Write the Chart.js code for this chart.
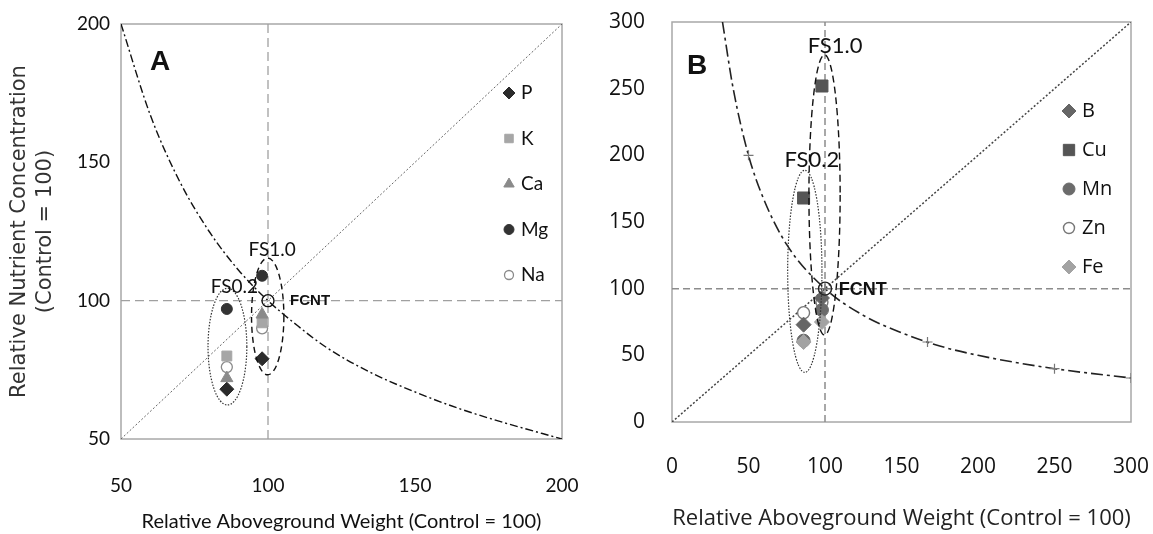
<!DOCTYPE html>
<html lang="en">
<head>
    <meta charset="UTF-8">
    <title>Relative nutrient concentration vs aboveground weight</title>
    <script src="https://cdn.jsdelivr.net/npm/chart.js"></script>
    <style>
        body {
            margin: 0;
            background: #fff;
        }
        #chartA {
            position: absolute;
            left: 0;
            top: 0;
        }
        #chartB {
            position: absolute;
            left: 590px;
            top: 0;
        }
    </style>
</head>
<body>
    <canvas id="chartA" width="585" height="534"></canvas>
    <canvas id="chartB" width="563" height="534"></canvas>

    <script>
        // Panel A - macronutrients (x = relative weight, y = relative concentration)
        var A_TREATMENTS = ["FS0.2", "FS1.0"];
        var A_WEIGHT = [86, 98];
        var A_P = [68, 79];
        var A_K = [80, 92];
        var A_CA = [72, 95];
        var A_MG = [97, 109];
        var A_NA = [76, 90];
        var A_TICKS = [50, 100, 150, 200];
        // iso-content curve through the control point
        var A_CURVE_X = [50, 60, 70, 80, 90, 100, 110, 120, 135, 150, 165, 180, 200];
        var A_CURVE_Y = [200, 167, 143, 125, 111, 100, 91, 83, 74, 67, 61, 56, 50];

        // Panel B - micronutrients
        var B_TREATMENTS = ["FS0.2", "FS1.0"];
        var B_WEIGHT = [86, 98];
        var B_B = [73, 93];
        var B_CU = [168, 252];
        var B_MN = [61, 84];
        var B_ZN = [82, 90];
        var B_FE = [60, 75];
        var B_TICKS = [0, 50, 100, 150, 200, 250, 300];
        var B_CURVE_X = [33, 40, 50, 60, 75, 100, 125, 150, 175, 200, 250, 300];
        var B_CURVE_Y = [300, 250, 200, 167, 133, 100, 80, 67, 57, 50, 40, 33];
        var B_CROSS_X = [50, 100, 167, 250, 300];
        var B_CROSS_Y = [200, 100, 60, 40, 33];

        var CONTROL = 100;

        function pts(xs, ys) {
            return xs.map(function (x, i) { return { x: x, y: ys[i] }; });
        }

        function series(label, ys, xs, style, r, legendR, fill, stroke, bw, order) {
            return {
                label: label,
                data: pts(xs, ys),
                showLine: false,
                pointStyle: style,
                pointRadius: r,
                pointHoverRadius: r,
                pointBackgroundColor: fill,
                pointBorderColor: stroke,
                pointBorderWidth: bw,
                order: order,
                inLegend: true,
                legendRadius: legendR
            };
        }

        function refLine(xs, ys, color, dash, width, smooth) {
            return {
                label: "",
                data: pts(xs, ys),
                showLine: true,
                pointRadius: 0,
                pointHoverRadius: 0,
                borderColor: color,
                borderDash: dash,
                borderWidth: width,
                cubicInterpolationMode: smooth ? "monotone" : "default",
                fill: false,
                order: 20
            };
        }

        // frame, ellipses, text labels and the in-plot legend
        var overlay = {
            id: "overlay",
            beforeDatasetsDraw: function (chart) {
                var ctx = chart.ctx, a = chart.chartArea;
                ctx.save();
                ctx.strokeStyle = "#a8a8a8";
                ctx.lineWidth = 1.5;
                ctx.strokeRect(a.left, a.top, a.right - a.left, a.bottom - a.top);
                ctx.restore();
            },
            afterDatasetsDraw: function (chart, args, opts) {
                var ctx = chart.ctx, xs = chart.scales.x, ys = chart.scales.y;
                ctx.save();
                opts.ellipses.forEach(function (e) {
                    var cx = xs.getPixelForValue(e.cx), cy = ys.getPixelForValue(e.cy);
                    var rx = Math.abs(xs.getPixelForValue(e.cx + e.rx) - cx);
                    var ry = Math.abs(ys.getPixelForValue(e.cy + e.ry) - cy);
                    ctx.beginPath();
                    ctx.setLineDash(e.dash);
                    ctx.lineWidth = e.width;
                    ctx.strokeStyle = e.color;
                    ctx.ellipse(cx, cy, rx, ry, 0, 0, Math.PI * 2);
                    ctx.stroke();
                });
                ctx.setLineDash([]);
                ctx.textBaseline = "middle";
                opts.labels.forEach(function (l) {
                    ctx.font = l.font;
                    ctx.fillStyle = "#111";
                    ctx.textAlign = l.align;
                    ctx.fillText(l.text, xs.getPixelForValue(l.x), ys.getPixelForValue(l.y));
                });
                var lg = opts.legend;
                chart.data.datasets.filter(function (d) { return d.inLegend; }).forEach(function (d, i) {
                    var py = lg.y + i * lg.gap;
                    ctx.fillStyle = d.pointBackgroundColor;
                    ctx.strokeStyle = d.pointBorderColor;
                    ctx.lineWidth = d.pointBorderWidth;
                    if (Chart.helpers && Chart.helpers.drawPoint) {
                        Chart.helpers.drawPoint(ctx, { pointStyle: d.pointStyle, radius: d.legendRadius, borderWidth: d.pointBorderWidth, rotation: 0 }, lg.x, py);
                    } else {
                        ctx.beginPath();
                        ctx.arc(lg.x, py, d.legendRadius, 0, Math.PI * 2);
                        ctx.fill();
                        ctx.stroke();
                    }
                    ctx.font = lg.font;
                    ctx.fillStyle = "#111";
                    ctx.textAlign = "left";
                    ctx.fillText(d.label, lg.textX, py);
                });
                ctx.restore();
            }
        };

        function axis(ticks, min, max, tickFont, pad, size, isX, title) {
            var cfg = {
                type: "linear",
                min: min,
                max: max,
                afterBuildTicks: function (s) { s.ticks = ticks.map(function (v) { return { value: v }; }); },
                ticks: { font: tickFont, color: "#111", padding: pad },
                grid: { display: false, drawTicks: false },
                border: { display: false },
                afterFit: function (s) {
                    if (isX) { s.height = size; } else { s.width = size; }
                    // keep the plot box where the layout padding puts it
                    s.paddingLeft = 0;
                    s.paddingRight = 0;
                    s.paddingTop = 0;
                    s.paddingBottom = 0;
                }
            };
            if (title) { cfg.title = title; }
            return cfg;
        }

        // ---------- Panel A ----------
        var dataA = [
            series("P", A_P, A_WEIGHT, "rectRot", 7, 6, "#2b2b2b", "#2b2b2b", 1, 5),
            series("K", A_K, A_WEIGHT, "rect", 7, 6, "#a6a6a6", "#a6a6a6", 1, 4),
            series("Ca", A_CA, A_WEIGHT, "triangle", 7, 6, "#8a8a8a", "#8a8a8a", 1, 3),
            series("Mg", A_MG, A_WEIGHT, "circle", 5.5, 5, "#333333", "#333333", 1, 2),
            series("Na", A_NA, A_WEIGHT, "circle", 5.5, 4.5, "#ffffff", "#8a8a8a", 1.3, 6),
            {
                label: "FCNT",
                data: [{ x: CONTROL, y: CONTROL }],
                showLine: false,
                pointStyle: "circle",
                pointRadius: 6,
                pointBackgroundColor: "rgba(255,255,255,0)",
                pointBorderColor: "#111",
                pointBorderWidth: 1.4,
                order: 0
            },
            refLine([50, 200], [CONTROL, CONTROL], "#a0a0a0", [9, 5], 1.3, false),
            refLine([CONTROL, CONTROL], [50, 200], "#a0a0a0", [9, 5], 1.3, false),
            refLine([50, 200], [50, 200], "#666666", [2, 2], 1, false),
            refLine(A_CURVE_X, A_CURVE_Y, "#111111", [8, 3, 2, 3], 1.4, true)
        ];

        var tickFontA = { family: "Lato", size: 19 };

        new Chart(document.getElementById("chartA").getContext("2d"), {
            type: "scatter",
            data: { datasets: dataA },
            plugins: [overlay],
            options: {
                responsive: false,
                animation: false,
                layout: { padding: { left: 0, right: 23, top: 24, bottom: 0 } },
                scales: {
                    x: axis(A_TICKS, 50, 200, tickFontA, 35, 95, true, {
                        display: true,
                        text: "Relative Aboveground Weight (Control = 100)",
                        color: "#111",
                        font: { family: "Lato", size: 20 },
                        padding: { top: 0, bottom: 0 }
                    }),
                    y: axis(A_TICKS, 50, 200, tickFontA, 11, 121, false, {
                        display: true,
                        text: ["Relative Nutrient Concentration", "(Control = 100)"],
                        color: "#333",
                        font: { family: "'DejaVu Sans'", size: 21, lineHeight: 1.25 },
                        padding: { top: 6, bottom: 0 }
                    })
                },
                plugins: {
                    legend: { display: false },
                    tooltip: { enabled: false },
                    overlay: {
                        ellipses: [
                            { cx: 86.2, cy: 83.4, rx: 6.6, ry: 21.1, dash: [1.5, 1.5], width: 1.2, color: "#333" },
                            { cx: 99.9, cy: 94.3, rx: 5.5, ry: 21.1, dash: [6, 4], width: 1.4, color: "#111" }
                        ],
                        labels: [
                            { text: "A", x: 63.3, y: 186, font: "bold 28px 'Liberation Sans'", align: "center" },
                            { text: A_TREATMENTS[1], x: 101.4, y: 118.3, font: "19px Lato", align: "center" },
                            { text: A_TREATMENTS[0], x: 88.6, y: 104.9, font: "19px Lato", align: "center" },
                            { text: "FCNT", x: 107.5, y: 100, font: "bold 15px 'Liberation Sans'", align: "left" }
                        ],
                        legend: { x: 509, textX: 521, y: 93, gap: 45.5, font: "19px Lato" }
                    }
                }
            }
        });

        // ---------- Panel B ----------
        var dataB = [
            series("B", B_B, B_WEIGHT, "rectRot", 7.5, 7, "#666666", "#666666", 1, 3),
            series("Cu", B_CU, B_WEIGHT, "rect", 8.5, 8, "#555555", "#555555", 1, 4),
            series("Mn", B_MN, B_WEIGHT, "circle", 6.5, 6, "#6b6b6b", "#6b6b6b", 1, 5),
            series("Zn", B_ZN, B_WEIGHT, "circle", 6, 5.5, "#ffffff", "#777777", 1.4, 6),
            series("Fe", B_FE, B_WEIGHT, "rectRot", 7.5, 7, "#a3a3a3", "#a3a3a3", 1, 2),
            {
                label: "FCNT",
                data: [{ x: CONTROL, y: CONTROL }],
                showLine: false,
                pointStyle: "circle",
                pointRadius: 6.5,
                pointBackgroundColor: "rgba(255,255,255,0)",
                pointBorderColor: "#222",
                pointBorderWidth: 1.4,
                order: 0
            },
            {
                label: "",
                data: pts(B_CROSS_X, B_CROSS_Y),
                showLine: false,
                pointStyle: "cross",
                pointRadius: 5,
                pointBorderColor: "#777",
                pointBorderWidth: 1.2,
                order: 15
            },
            refLine([0, 300], [CONTROL, CONTROL], "#8c8c8c", [7, 4], 1.5, false),
            refLine([CONTROL, CONTROL], [0, 300], "#8c8c8c", [7, 4], 1.5, false),
            refLine([0, 300], [0, 300], "#444444", [2, 2], 1.5, false),
            refLine(B_CURVE_X, B_CURVE_Y, "#222222", [12, 4, 3, 4], 1.6, true)
        ];

        var tickFontB = { family: "Open Sans", size: 21 };

        new Chart(document.getElementById("chartB").getContext("2d"), {
            type: "scatter",
            data: { datasets: dataB },
            plugins: [overlay],
            options: {
                responsive: false,
                animation: false,
                layout: { padding: { left: 0, right: 22, top: 22, bottom: 0 } },
                scales: {
                    x: axis(B_TICKS, 0, 300, tickFontB, 32, 112, true, {
                        display: true,
                        text: "Relative Aboveground Weight (Control = 100)",
                        color: "#222",
                        font: { family: "Open Sans", size: 22 },
                        padding: { top: 0, bottom: 2 }
                    }),
                    y: axis(B_TICKS, 0, 300, tickFontB, 27, 82, false, null)
                },
                plugins: {
                    legend: { display: false },
                    tooltip: { enabled: false },
                    overlay: {
                        ellipses: [
                            { cx: 86.8, cy: 113, rx: 11.2, ry: 75.8, dash: [1.5, 1.5], width: 1.2, color: "#333" },
                            { cx: 99.7, cy: 170.3, rx: 10.2, ry: 105, dash: [7, 4], width: 1.4, color: "#111" }
                        ],
                        labels: [
                            { text: "B", x: 16.4, y: 267, font: "bold 28px 'Liberation Sans'", align: "center" },
                            { text: B_TREATMENTS[1], x: 106.6, y: 282, font: "22px Lato", align: "center" },
                            { text: B_TREATMENTS[0], x: 91.4, y: 196.5, font: "22px Lato", align: "center" },
                            { text: "FCNT", x: 109, y: 99, font: "bold 18px 'Liberation Sans'", align: "left" }
                        ],
                        legend: { x: 479, textX: 492, y: 111, gap: 39, font: "20px 'Open Sans'" }
                    }
                }
            }
        });
    </script>
</body>
</html>
